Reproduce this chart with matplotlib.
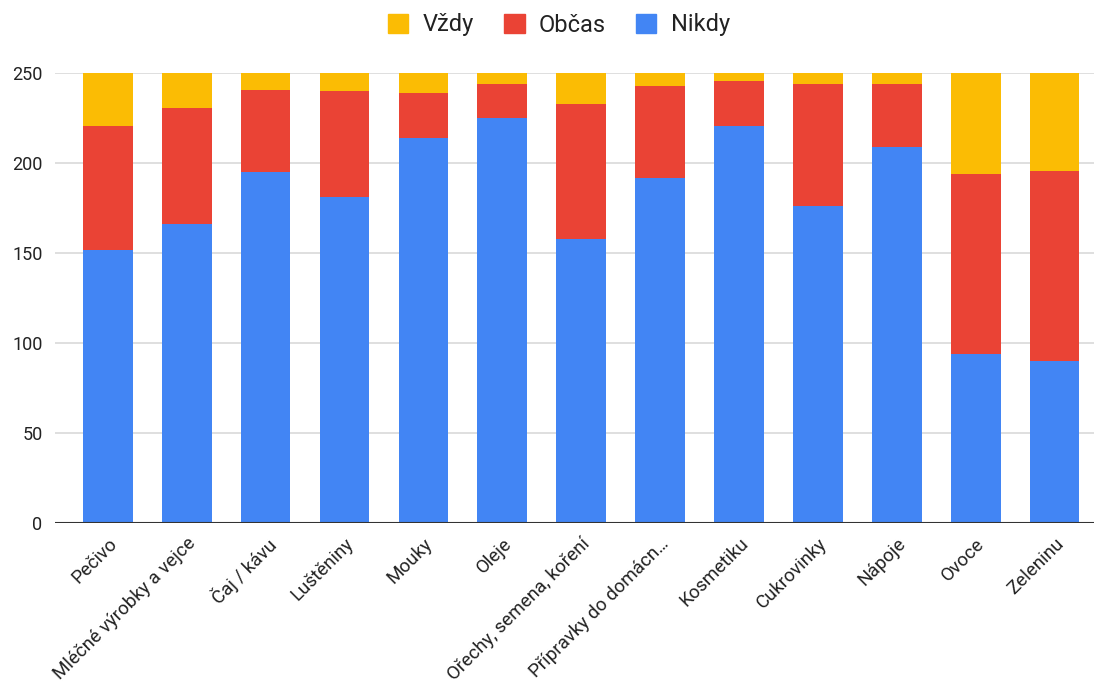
import matplotlib
matplotlib.use("Agg")
import matplotlib.pyplot as plt
import numpy as np
from matplotlib.patches import Patch

categories = ["Pečivo", "Mléčné výrobky a vejce", "Čaj / kávu", "Luštěniny", "Mouky",
              "Oleje", "Ořechy, semena, koření", "Přípravky do domácn…", "Kosmetiku",
              "Cukrovinky", "Nápoje", "Ovoce", "Zeleninu"]
nikdy = [152, 166, 195, 181, 214, 225, 158, 192, 221, 176, 209, 94, 90]
obcas = [69, 65, 46, 59, 25, 19, 75, 51, 25, 68, 35, 100, 106]
vzdy = [29, 19, 9, 10, 11, 6, 17, 7, 4, 6, 6, 56, 54]
y_ticks = [0, 50, 100, 150, 200, 250]

plt.rcParams['font.family'] = ['Roboto', 'DejaVu Sans']

c_nikdy = "#4285F4"
c_obcas = "#EA4335"
c_vzdy = "#FBBC04"

fig = plt.figure(figsize=(10.94, 6.88), dpi=100)
ax = fig.add_axes([55/1094, 164.7/688, 1039/1094, 450/688])

x = np.arange(len(categories))
w = 0.63
n = np.array(nikdy); o = np.array(obcas); v = np.array(vzdy)
ax.bar(x, n, w, color=c_nikdy, zorder=3, linewidth=0)
ax.bar(x, o, w, bottom=n, color=c_obcas, zorder=3, linewidth=0)
ax.bar(x, v, w, bottom=n + o, color=c_vzdy, zorder=3, linewidth=0, clip_on=False)

ax.set_ylim(0, 250)
ax.set_xlim(-0.67, 12.5)
ax.set_yticks(y_ticks)
ax.set_yticklabels([str(t) for t in y_ticks], fontsize=13, color="#222222")
ax.grid(axis='y', color="#d9d9d9", linewidth=1.2, zorder=0)
ax.axhline(0, color="#333333", linewidth=1.5, zorder=4)
for s in ax.spines.values():
    s.set_visible(False)
ax.tick_params(axis='both', length=0)
ax.tick_params(axis='y', pad=9)
ax.set_xticks(x)
ax.set_xticklabels(categories, rotation=45, ha='right', rotation_mode='anchor',
                   fontsize=13.5, color="#222222")
ax.tick_params(axis='x', pad=8)

handles = [Patch(color=c_vzdy, label="Vždy"), Patch(color=c_obcas, label="Občas"),
           Patch(color=c_nikdy, label="Nikdy")]
fig.legend(handles=handles, loc='center', bbox_to_anchor=(559/1094, 1 - 25/688), ncol=3,
           frameon=False, fontsize=17, handlelength=0.85, handleheight=0.85,
           handletextpad=0.6, columnspacing=1.3, labelcolor="#222222")

fig.savefig("out.png", dpi=100)
